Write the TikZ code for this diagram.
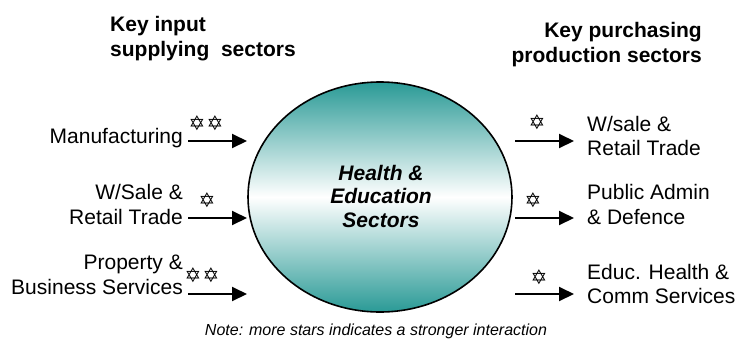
\documentclass[tikz,border=0pt]{standalone}
\usepackage{fontspec}
\setmainfont{Liberation Sans}
\newfontfamily\starfont{DejaVu Sans}
\usepackage{tikz}
\usetikzlibrary{arrows.meta,shapes.geometric}
\definecolor{tealdeep}{HTML}{2A9A96}
\definecolor{ink}{HTML}{000000}
\tikzset{
  flow/.style={draw=ink, line width=2pt, -{Triangle[length=15pt,width=14pt]}},
  hub/.style={ellipse, draw=ink, line width=1.6pt, minimum width=264pt, minimum height=230pt,
    top color=tealdeep, bottom color=tealdeep, middle color=white},
  lab/.style={text=ink, font=\fontsize{21}{24.5}\selectfont, inner sep=0pt},
  head/.style={text=ink, font=\fontsize{21}{25}\selectfont\bfseries, inner sep=0pt},
  stars/.style={text=ink, font=\fontsize{20}{20}\selectfont\starfont, inner sep=0pt},
  note/.style={text=ink, font=\fontsize{16}{18}\selectfont\itshape, inner sep=0pt},
}

\begin{document}
\begin{tikzpicture}[x=1pt,y=-1pt]
  \useasboundingbox (0,0) rectangle (737,338);
  % centre
  \node[hub] (core) at (380,197) {};
  \node[head, font=\fontsize{21}{23.5}\selectfont\bfseries\itshape, align=center] (coretext) at (381,196)
    {Health \&\\Education\\Sectors};
  % headings
  \node[head, anchor=west, align=left] (inhead) at (110,39) {Key input\\supplying~~sectors};
  \node[head, anchor=east, align=right] (outhead) at (702,45) {Key purchasing\\production sectors};
  % supplying sectors
  \node[lab, anchor=east, align=right] (manu) at (183,138) {Manufacturing};
  \node[lab, anchor=east, align=right] (wsale) at (183,204.5) {W/Sale \&\\Retail Trade};
  \node[lab, anchor=east, align=right] (prop) at (183,275) {Property \&\\Business Services};
  % purchasing sectors
  \node[lab, anchor=west, align=left] (retail) at (587,136) {W/sale \&\\Retail Trade};
  \node[lab, anchor=west, align=left] (admin) at (587,204.5) {Public Admin\\\& Defence};
  \node[lab, anchor=west, align=left] (educ) at (587,284) {Educ. Health \&\\Comm Services};
  % arrows
  \foreach \N/\Y in {a/141,b/218,c/294}{
    \coordinate (in\N) at (188,\Y);
    \coordinate (to\N) at (247,\Y);
    \coordinate (out\N) at (515,\Y);
    \coordinate (buy\N) at (574,\Y);
    \draw[flow] (in\N) -- (to\N);
    \draw[flow] (out\N) -- (buy\N);
  }
  % stars
  \node[stars] (s1) at (206,123) {✡\hspace{1pt}✡};
  \node[stars] (s2) at (207,200) {✡};
  \node[stars] (s3) at (202,275) {✡\hspace{1pt}✡};
  \node[stars] (s4) at (537,122) {✡};
  \node[stars] (s5) at (533,200) {✡};
  \node[stars] (s6) at (539,277) {✡};
  \node[note] (foot) at (376,331) {Note: more stars indicates a stronger interaction};
\end{tikzpicture}
\end{document}
